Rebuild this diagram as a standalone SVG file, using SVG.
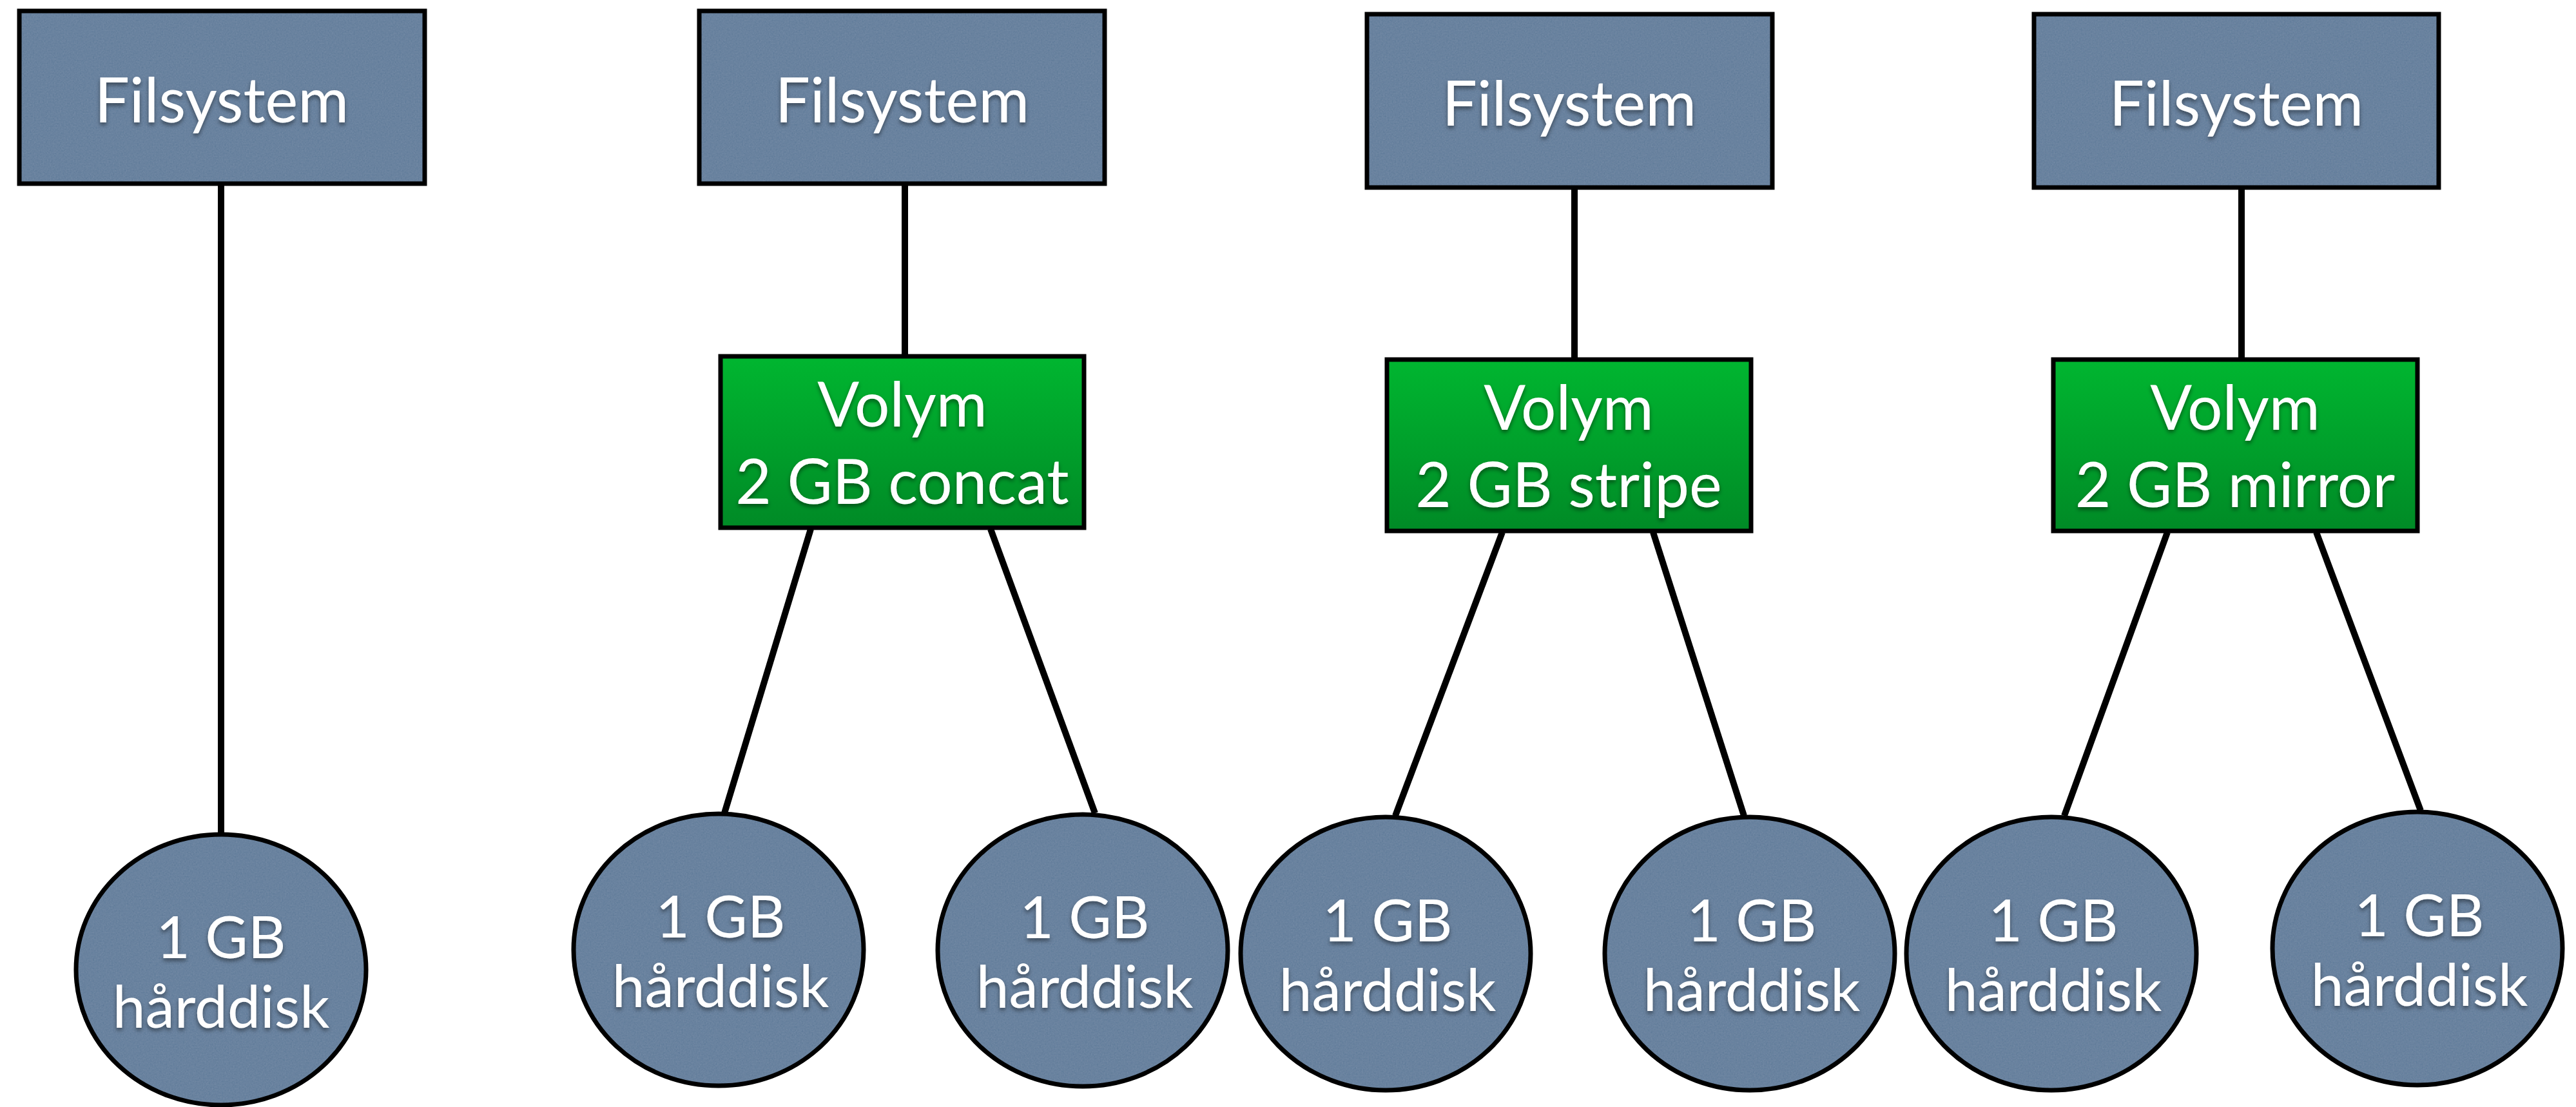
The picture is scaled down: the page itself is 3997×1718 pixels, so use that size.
<svg xmlns="http://www.w3.org/2000/svg" width="3997" height="1718" viewBox="0 0 3997 1718">
  <style>
    .edge { stroke: #000; stroke-width: 10; stroke-linecap: butt; fill: none; }
    .fs { fill: url(#paper); stroke: #000; stroke-width: 7; }
    .vol { fill: url(#greenGrad); stroke: #000; stroke-width: 7; }
    .disk { fill: url(#paper); stroke: #000; stroke-width: 7; }
    .lbl { font-family: Lato, "Open Sans", "Liberation Sans", sans-serif; fill: #fff; text-anchor: middle; filter: url(#textShadow); }
    .big { font-size: 96px; }
    .small { font-size: 91px; }
  </style>
  <defs>
    <!-- grainy slate-blue paper fill -->
    <filter id="grain" x="0" y="0" width="100%" height="100%">
      <feTurbulence type="fractalNoise" baseFrequency="0.45" numOctaves="3" seed="7" result="noise"/>
      <feColorMatrix in="noise" type="matrix" values="0.33 0.33 0.33 0 0  0.33 0.33 0.33 0 0  0.33 0.33 0.33 0 0  0 0 0 0 0.12" result="grey"/>
      <feComposite in="grey" in2="SourceGraphic" operator="in" result="clipped"/>
      <feMerge>
        <feMergeNode in="SourceGraphic"/>
        <feMergeNode in="clipped"/>
      </feMerge>
    </filter>
    <pattern id="paper" patternUnits="userSpaceOnUse" x="0" y="0" width="700" height="700">
      <rect width="700" height="700" fill="#58789b" filter="url(#grain)"/>
    </pattern>
    <linearGradient id="greenGrad" x1="0" y1="0" x2="0" y2="1">
      <stop offset="0" stop-color="#00b630"/>
      <stop offset="1" stop-color="#008a26"/>
    </linearGradient>
    <filter id="textShadow" x="-10%" y="-20%" width="120%" height="150%">
      <feDropShadow dx="0" dy="4" stdDeviation="3" flood-color="#000" flood-opacity="0.45"/>
    </filter>
  </defs>

  <rect width="3997" height="1718" fill="#fff"/>

  <!-- links between file systems, volumes and disks -->
  <g id="connectors">
    <line class="edge" x1="343" y1="288" x2="343" y2="1294"/>
    <line class="edge" x1="1404" y1="288" x2="1404" y2="551"/>
    <line class="edge" x1="2443" y1="294" x2="2443" y2="556"/>
    <line class="edge" x1="3478" y1="294" x2="3478" y2="556"/>
    <line class="edge" x1="1258" y1="821" x2="1124" y2="1262"/>
    <line class="edge" x1="1537" y1="821" x2="1699" y2="1262"/>
    <line class="edge" x1="2331" y1="826" x2="2165" y2="1266"/>
    <line class="edge" x1="2565" y1="826" x2="2706" y2="1266"/>
    <line class="edge" x1="3363" y1="826" x2="3203" y2="1266"/>
    <line class="edge" x1="3594" y1="826" x2="3756" y2="1258"/>
  </g>

  <!-- file system boxes -->
  <g id="fs1">
    <rect class="fs" x="30" y="17" width="629" height="268"/>
    <text class="lbl big" x="344" y="190">Filsystem</text>
  </g>
  <g id="fs2">
    <rect class="fs" x="1085" y="17" width="629" height="268"/>
    <text class="lbl big" x="1400" y="190">Filsystem</text>
  </g>
  <g id="fs3">
    <rect class="fs" x="2121" y="22" width="629" height="269"/>
    <text class="lbl big" x="2435" y="195">Filsystem</text>
  </g>
  <g id="fs4">
    <rect class="fs" x="3156" y="22" width="628" height="269"/>
    <text class="lbl big" x="3470" y="195">Filsystem</text>
  </g>

  <!-- volume boxes -->
  <g id="vol-concat">
    <rect class="vol" x="1118" y="553" width="564" height="266"/>
    <text class="lbl big" x="1400" y="662">Volym</text>
    <text class="lbl big" x="1400" y="782">2 GB concat</text>
  </g>
  <g id="vol-stripe">
    <rect class="vol" x="2152" y="558" width="565" height="266"/>
    <text class="lbl big" x="2434" y="667">Volym</text>
    <text class="lbl big" x="2434" y="787">2 GB stripe</text>
  </g>
  <g id="vol-mirror">
    <rect class="vol" x="3186" y="558" width="565" height="266"/>
    <text class="lbl big" x="3468" y="667">Volym</text>
    <text class="lbl big" x="3468" y="787">2 GB mirror</text>
  </g>

  <!-- disks -->
  <g id="disk1">
    <ellipse class="disk" cx="343" cy="1505" rx="225" ry="210"/>
    <text class="lbl small" x="343" y="1487">1 GB</text>
    <text class="lbl small" x="343" y="1595">hårddisk</text>
  </g>
  <g id="disk2a">
    <ellipse class="disk" cx="1115" cy="1474" rx="225" ry="211"/>
    <text class="lbl small" x="1118" y="1455">1 GB</text>
    <text class="lbl small" x="1118" y="1563">hårddisk</text>
  </g>
  <g id="disk2b">
    <ellipse class="disk" cx="1680" cy="1475" rx="225" ry="211"/>
    <text class="lbl small" x="1683" y="1456">1 GB</text>
    <text class="lbl small" x="1683" y="1564">hårddisk</text>
  </g>
  <g id="disk3a">
    <ellipse class="disk" cx="2150" cy="1480" rx="225" ry="212"/>
    <text class="lbl small" x="2153" y="1461">1 GB</text>
    <text class="lbl small" x="2153" y="1569">hårddisk</text>
  </g>
  <g id="disk3b">
    <ellipse class="disk" cx="2715" cy="1480" rx="225" ry="212"/>
    <text class="lbl small" x="2718" y="1461">1 GB</text>
    <text class="lbl small" x="2718" y="1569">hårddisk</text>
  </g>
  <g id="disk4a">
    <ellipse class="disk" cx="3183" cy="1480" rx="225" ry="212"/>
    <text class="lbl small" x="3186" y="1461">1 GB</text>
    <text class="lbl small" x="3186" y="1569">hårddisk</text>
  </g>
  <g id="disk4b">
    <ellipse class="disk" cx="3751" cy="1472" rx="225" ry="212"/>
    <text class="lbl small" x="3754" y="1453">1 GB</text>
    <text class="lbl small" x="3754" y="1561">hårddisk</text>
  </g>
</svg>
